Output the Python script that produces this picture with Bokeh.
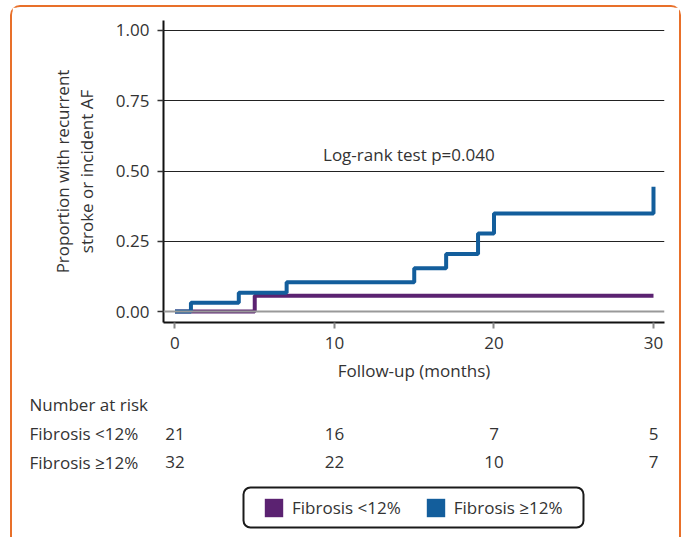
from bokeh.plotting import figure
from bokeh.layouts import column, row
from bokeh.core.properties import value
from bokeh.models import (Range1d, FixedTicker, NumeralTickFormatter, Span, Label,
                          LabelSet, ColumnDataSource, Legend, LegendItem, BoxAnnotation)
from bokeh.embed import file_html
from bokeh.resources import INLINE

# ---- data ----
x_ticks = [0, 10, 20, 30]
y_ticks = [0, 0.25, 0.5, 0.75, 1.0]

low_t = [0, 5, 30]
low_p = [0.0, 0.056, 0.056]
high_t = [0, 1, 4, 7, 15, 17, 19, 20, 30]
high_p = [0.0, 0.031, 0.067, 0.104, 0.154, 0.205, 0.278, 0.349, 0.444]

risk_times = [0, 10, 20, 30]
risk_low = [21, 16, 7, 5]
risk_high = [32, 22, 10, 7]
group_labels = ["Fibrosis <12%", "Fibrosis ≥12%"]
colors = ["#5B2271", "#135E9C"]
test_text = "Log-rank test p=0.040"

FONT = "Open Sans"
TXT = "#333333"
FS = "17px"

# ---------------- top: KM plot ----------------
W = 667
LEFT = 151
RIGHT = 15
H1 = 381
p = figure(width=W, height=H1, output_backend="svg", toolbar_location=None,
           x_range=Range1d(-0.72, 30.69), y_range=Range1d(-0.039, 1.0355),
           min_border_left=LEFT, min_border_right=RIGHT, min_border_top=13,
           min_border_bottom=66)
p.outline_line_color = None
p.border_fill_color = "white"

p.xaxis.ticker = FixedTicker(ticks=x_ticks)
p.yaxis.ticker = FixedTicker(ticks=y_ticks)
p.yaxis.formatter = NumeralTickFormatter(format="0.00")
for ax in (p.xaxis[0], p.yaxis[0]):
    ax.major_label_text_font = FONT
    ax.major_label_text_font_size = FS
    ax.major_label_text_color = TXT
    ax.axis_label_text_font = FONT
    ax.axis_label_text_font_size = FS
    ax.axis_label_text_color = TXT
    ax.axis_label_text_font_style = "normal"
    ax.minor_tick_line_color = None
    ax.major_tick_in = 0
    ax.major_tick_out = 6
    ax.axis_line_color = "#111111"
    ax.axis_line_width = 2
p.xaxis.major_tick_line_color = "#888888"
p.xaxis.major_tick_line_width = 2
p.yaxis.major_tick_line_color = "#333333"
p.yaxis.major_tick_line_width = 1.5
p.xaxis.major_label_standoff = 8
p.yaxis.major_label_standoff = 8
p.xaxis.axis_label = "Follow-up (months)"
p.xaxis.axis_label_standoff = 7
p.yaxis.axis_label = "Proportion with recurrent\nstroke or incident AF"
p.yaxis.axis_label_standoff = 15
p.yaxis.axis_label_text_line_height = 1.05

p.xgrid.grid_line_color = None
p.ygrid.ticker = FixedTicker(ticks=[t for t in y_ticks if t > 0])
p.ygrid.grid_line_color = "#222222"
p.ygrid.grid_line_width = 1.2
p.add_layout(Span(location=0, dimension="width", line_color="#999999", line_width=2))

p.step(low_t, low_p, mode="after", line_color=colors[0], line_width=4)
p.step(high_t, high_p, mode="after", line_color=colors[1], line_width=4)

p.add_layout(Label(x=14.66, y=0.557, text=test_text, text_align="center",
                   text_baseline="middle", text_font=FONT, text_font_size=FS,
                   text_color=TXT))

# ---------------- bottom: number at risk + legend ----------------
H2 = 149
ROW_Y = [45, 73.5]
HEAD_Y = 16

# left part: row names
qa = figure(width=LEFT, height=H2, output_backend="svg", toolbar_location=None,
            x_range=Range1d(0, LEFT), y_range=Range1d(H2, 0), min_border=0,
            x_axis_location=None, y_axis_location=None)
qa.grid.visible = False
qa.outline_line_color = None
qa.border_fill_color = "white"
qa.add_layout(Label(x=17, y=HEAD_Y, x_units="screen", text="Number at risk",
                    text_baseline="middle", text_font=FONT, text_font_size=FS,
                    text_color=TXT))
for lbl, yy in zip(group_labels, ROW_Y):
    qa.add_layout(Label(x=17, y=yy, x_units="screen", text=lbl,
                        text_baseline="middle", text_font=FONT,
                        text_font_size=FS, text_color=TXT))

# right part: counts aligned with the plot's x scale, and the legend
qb = figure(width=W - LEFT, height=H2, output_backend="svg", toolbar_location=None,
            x_range=p.x_range, y_range=Range1d(H2, 0), min_border=0,
            min_border_right=RIGHT, x_axis_location=None, y_axis_location=None)
qb.grid.visible = False
qb.outline_line_color = None
qb.border_fill_color = "white"
for counts, yy in zip([risk_low, risk_high], ROW_Y):
    src = ColumnDataSource(dict(t=risk_times, n=[str(c) for c in counts]))
    qb.add_layout(LabelSet(x="t", y=yy, text="n", source=src,
                           text_align="center", text_baseline="middle",
                           text_font=value(FONT), text_font_size=value(FS),
                           text_color=TXT))

nan = float("nan")
q_low = qb.quad(left=[nan], right=[nan], top=[nan], bottom=[nan],
                fill_color=colors[0], line_color=None)
q_high = qb.quad(left=[nan], right=[nan], top=[nan], bottom=[nan],
                 fill_color=colors[1], line_color=None)
legend = Legend(items=[LegendItem(label=group_labels[0], renderers=[q_low]),
                       LegendItem(label=group_labels[1], renderers=[q_high])],
                orientation="horizontal", location=(91, 10),
                glyph_width=23, glyph_height=23, label_height=23,
                label_standoff=7, spacing=23, padding=8, margin=0,
                border_line_alpha=0, background_fill_alpha=0,
                label_text_font=FONT, label_text_font_size=FS,
                label_text_color=TXT)
qb.add_layout(legend)
qb.add_layout(BoxAnnotation(left=80, right=420, top=50, bottom=10,
                            left_units="screen", right_units="screen",
                            top_units="screen", bottom_units="screen",
                            fill_alpha=0, line_color="#1a1a1a", line_alpha=1.0,
                            line_width=2, border_radius=7, level="overlay"))

inner = column(p, row(qa, qb, spacing=0), spacing=0,
               styles={"border": "2px solid #E8702A", "border-bottom": "none",
                       "border-radius": "10px 10px 0 0"})
root = column(inner, styles={"padding": "5px 0 0 10px"})

open("out.html", "w").write(file_html(root, INLINE))
